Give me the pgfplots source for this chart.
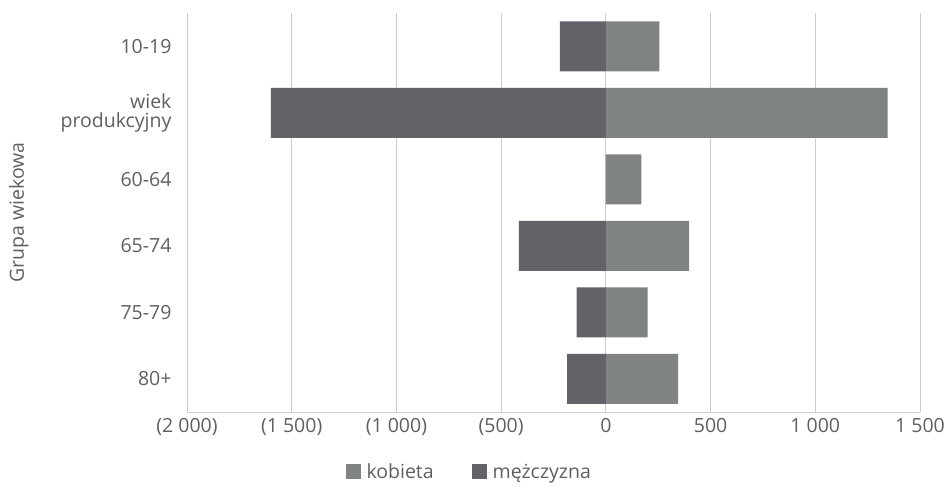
\documentclass[border=0pt]{standalone}
\usepackage{pgfplots}
\pgfplotsset{compat=1.18}
\usepackage{fontspec}
\setmainfont{Open Sans}
\definecolor{kob}{RGB}{128,131,132}
\definecolor{mez}{RGB}{98,99,104}
\definecolor{txt}{RGB}{95,95,95}
\definecolor{grd}{RGB}{205,205,205}
\begin{document}
\begin{tikzpicture}[x=1pt,y=1pt]
\useasboundingbox (0,0) rectangle (947,488);
\begin{axis}[
    at={(187pt,76pt)}, anchor=south west,
    scale only axis, width=733pt, height=399pt,
    xbar, bar width=50pt, bar shift=0pt,
    xmin=-2000, xmax=1500,
    ymin=-0.5, ymax=5.5, y dir=reverse,
    xtick={-2000,-1500,-1000,-500,0,500,1000,1500},
    xticklabels={(2 000),(1 500),(1 000),(500),0,500,1 000,1 500},
    ytick={0,...,5},
    yticklabels={10-19,{wiek\\produkcyjny},60-64,65-74,75-79,80+},
    yticklabel style={align=right, font=\fontsize{19.5}{19}\selectfont, text=txt, xshift=-12pt},
    xticklabel style={font=\fontsize{19.5}{20}\selectfont, text=txt, yshift=-3pt},
    xmajorgrids, grid style={grd, line width=0.8pt},
    axis x line*=bottom, axis y line*=left,
    x axis line style={grd, line width=0.8pt},
    y axis line style={draw=none},
    major tick length=0pt,
    ylabel={Grupa wiekowa},
    ylabel style={font=\fontsize{19.5}{20}\selectfont, text=txt, at={(-155pt,0.5)}, anchor=south},
    legend style={at={(0.385,-0.12)}, anchor=north, draw=none, fill=none,
        legend columns=2, font=\fontsize{19.5}{20}\selectfont, text=txt,
        /tikz/every even column/.append style={column sep=36pt}},
    legend image code/.code={\fill[#1] (0pt,-7pt) rectangle (15pt,8pt);
        \path (0pt,0pt) -- (19pt,0pt);},
]
\addplot[fill=kob, draw=none] coordinates {(255,0) (1345,1) (170,2) (397,3) (200,4) (345,5)};
\addplot[fill=mez, draw=none] coordinates {(-220,0) (-1600,1) (0,2) (-415,3) (-140,4) (-185,5)};
\legend{kobieta, mężczyzna}
\end{axis}
\end{tikzpicture}
\end{document}
